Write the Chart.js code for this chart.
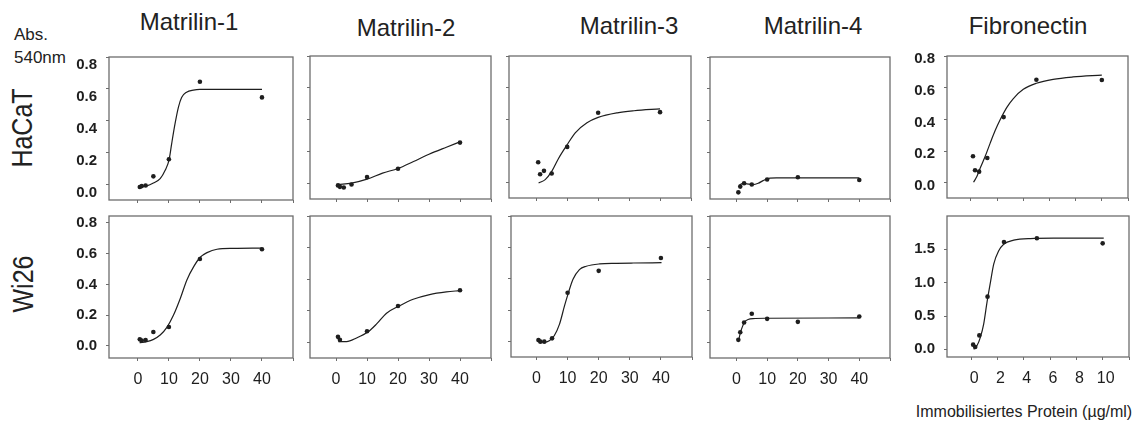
<!DOCTYPE html>
<html>
<head>
<meta charset="utf-8">
<script src="https://cdn.jsdelivr.net/npm/chart.js@4.4.1/dist/chart.umd.min.js"></script>
<style>
  body { margin: 0; background: #fff; width: 1138px; height: 425px; overflow: hidden; position: relative;
         font-family: "Liberation Sans", Arial, sans-serif; color: #222; }
  canvas { position: absolute; }
  .txt { position: absolute; white-space: nowrap; transform: translate(-50%, -50%); }
</style>
</head>
<body>
<div class="txt" style="left:189px;top:22px;font-size:24px">Matrilin-1</div>
<div class="txt" style="left:406px;top:28px;font-size:24px">Matrilin-2</div>
<div class="txt" style="left:629px;top:26px;font-size:24px">Matrilin-3</div>
<div class="txt" style="left:813px;top:26px;font-size:24px">Matrilin-4</div>
<div class="txt" style="left:1028px;top:26px;font-size:24px">Fibronectin</div>
<div class="txt" style="left:31px;top:35px;font-size:17px">Abs.</div>
<div class="txt" style="left:40px;top:58px;font-size:17px">540nm</div>
<div class="txt" style="left:22px;top:128px;font-size:25px;transform:translate(-50%,-50%) rotate(-90deg) scaleY(1.2)">HaCaT</div>
<div class="txt" style="left:23px;top:284px;font-size:25px;transform:translate(-50%,-50%) rotate(-90deg) scaleY(1.2)">Wi26</div>
<div class="txt" style="left:1024px;top:412px;font-size:16px">Immobilisiertes Protein (µg/ml)</div>

<script>
// doses in µg/ml
const matrilinDoses = [0.625, 1.25, 2.5, 5, 10, 20, 40];
const fibronectinDoses = [0.156, 0.3125, 0.625, 1.25, 2.5, 5, 10];

// measured points (Abs. 540nm), null = not visible
const hacatM1 = [-0.014, -0.008, -0.004, 0.053, 0.16, 0.645, 0.547];
const hacatM2 = [-0.01, -0.019, -0.023, -0.004, 0.042, 0.094, 0.258];
const hacatM3 = [0.13, 0.055, 0.076, 0.059, 0.227, 0.442, 0.446];
const hacatM4 = [-0.053, -0.017, 0.004, -0.004, 0.0275, 0.042, 0.025];
const hacatFn = [0.168, 0.08, 0.071, 0.157, 0.415, 0.65, 0.649];
const wi26M1 = [0.043, 0.035, 0.039, 0.091, 0.123, 0.565, 0.628];
const wi26M2 = [0.034, 0.015, null, null, 0.07, 0.23, 0.329];
const wi26M3 = [0.008, -0.002, -0.002, 0.019, 0.31, 0.45, 0.532];
const wi26M4 = [0.015, 0.063, 0.125, 0.18, 0.148, 0.129, 0.163];
const wi26Fn = [0.07, 0.035, 0.209, 0.79, 1.61, 1.667, 1.59];

// fitted curves
const hacatM1FitX = [0.5, 2.9, 5.0, 7.2, 8.8, 10.1, 10.9, 12.0, 13.1, 14.1, 15.7, 17.9, 20.0, 40];
const hacatM1FitY = [-0.014, -0.007, 0.011, 0.039, 0.091, 0.16, 0.258, 0.384, 0.488, 0.547, 0.58, 0.593, 0.597, 0.597];
const hacatM2FitX = [0.75, 5, 10, 15, 20, 25, 30, 35.6, 40];
const hacatM2FitY = [-0.004, 0.004, 0.029, 0.067, 0.096, 0.14, 0.185, 0.229, 0.2625];
const hacatM3FitX = [0.76, 2.9, 5.1, 7.2, 9.9, 12.6, 16.4, 20, 26.2, 31.6, 40];
const hacatM3FitY = [0.0, 0.021, 0.076, 0.154, 0.238, 0.316, 0.379, 0.413, 0.442, 0.455, 0.467];
const hacatM4FitX = [0.87, 1.6, 2.7, 5.4, 7.1, 8.7, 10.9, 13.0, 40];
const hacatM4FitY = [-0.011, 0.0, 0.002, -0.004, 0.004, 0.021, 0.036, 0.038, 0.038];
const hacatFnFitX = [0.2, 0.46, 0.71, 1.09, 1.47, 1.85, 2.23, 2.73, 3.24, 4.0, 5.0, 6.28, 7.8, 10];
const hacatFnFitY = [0.004, 0.042, 0.094, 0.168, 0.251, 0.33, 0.398, 0.475, 0.532, 0.59, 0.628, 0.653, 0.668, 0.68];
const wi26M1FitX = [0.54, 2.9, 5.05, 7.2, 9.35, 11.5, 13.7, 15.8, 18.0, 20.1, 22.3, 25.5, 30.9, 40];
const wi26M1FitY = [0.021, 0.028, 0.043, 0.071, 0.121, 0.201, 0.31, 0.429, 0.515, 0.576, 0.606, 0.628, 0.634, 0.636];
const wi26M2FitX = [0.75, 3.4, 6.6, 10.6, 13.1, 16.3, 20.4, 24.9, 30.2, 35.6, 40];
const wi26M2FitY = [0.004, 0.004, 0.027, 0.07, 0.116, 0.184, 0.23, 0.272, 0.302, 0.319, 0.327];
const wi26M3FitX = [0.65, 2.5, 4.1, 5.7, 7.4, 9.0, 10.2, 11.7, 13.8, 16.0, 20.3, 25.7, 31.1, 40.2];
const wi26M3FitY = [-0.002, -0.006, 0.004, 0.036, 0.11, 0.226, 0.306, 0.395, 0.458, 0.479, 0.494, 0.498, 0.5, 0.502];
const wi26M4FitX = [0.76, 1.3, 1.96, 2.7, 3.8, 5.4, 10, 40];
const wi26M4FitY = [0.015, 0.061, 0.099, 0.129, 0.144, 0.15, 0.152, 0.154];
const wi26FnFitX = [0.2, 0.46, 0.71, 0.96, 1.22, 1.47, 1.72, 2.1, 2.48, 3.24, 4.5, 6.28, 10.08];
const wi26FnFitY = [0.0, 0.06, 0.184, 0.383, 0.72, 1.005, 1.279, 1.478, 1.577, 1.637, 1.662, 1.667, 1.667];

// axis ticks
const matrilinXTicks = [0, 10, 20, 30, 40, 50];
const fibronectinXTicks = [0, 2, 4, 6, 8, 10, 12];
const absTicks = [0, 0.2, 0.4, 0.6, 0.8];
const absTicksFn = [0, 0.5, 1.0, 1.5];

Chart.defaults.font.family = '"Liberation Sans", Arial, sans-serif';
const INK = "#1e1e1e", FRAME = "#6d6d6d";

// box around the plot area
const frame = {
  id: "frame",
  afterDraw(chart) {
    const { ctx, chartArea: a } = chart;
    ctx.save();
    ctx.strokeStyle = FRAME;
    ctx.lineWidth = 1.3;
    ctx.strokeRect(a.left, a.top, a.right - a.left, a.bottom - a.top);
    ctx.restore();
  }
};

function makePanel(p) {
  const yW = p.yLabels ? 45 : 6, xH = p.xLabels ? 34 : 6, padT = 12, padR = 4;
  const [bl, bt, bw, bh] = p.box;
  const cv = document.createElement("canvas");
  cv.width = yW + bw + padR;
  cv.height = padT + bh + xH;
  cv.style.left = (bl - yW) + "px";
  cv.style.top = (bt - padT) + "px";
  document.body.appendChild(cv);

  const pts = p.x.map((v, i) => ({ x: v, y: p.y[i] })).filter(d => d.y !== null);
  const fit = p.fitX.map((v, i) => ({ x: v, y: p.fitY[i] }));

  new Chart(cv, {
    type: "scatter",
    data: {
      datasets: [
        { data: fit, showLine: true, pointRadius: 0, borderColor: INK, borderWidth: 1.2,
          cubicInterpolationMode: "monotone" },
        { data: pts, pointRadius: 2.3, backgroundColor: INK, pointBorderWidth: 0, borderColor: INK }
      ]
    },
    options: {
      responsive: false,
      animation: false,
      layout: { padding: { top: padT, right: padR, left: 0, bottom: 0 } },
      plugins: { legend: { display: false }, tooltip: { enabled: false } },
      scales: {
        x: {
          type: "linear", min: p.xMin, max: p.xMax,
          afterBuildTicks: s => { s.ticks = p.xTicks.map(v => ({ value: v })); },
          afterFit: s => { s.height = xH; s.paddingLeft = 0; s.paddingRight = 0; },
          grid: { drawOnChartArea: false, tickLength: 3, color: FRAME },
          border: { display: false },
          ticks: {
            padding: 9, labelOffset: p.xOff, color: INK, maxRotation: 0, autoSkip: false,
            font: { size: 16 },
            callback: v => (p.xLabels && v !== p.xTicks[p.xTicks.length - 1]) ? String(v) : ""
          }
        },
        y: {
          min: p.yMin, max: p.yMax,
          afterBuildTicks: s => { s.ticks = p.yTicks.map(v => ({ value: v })); },
          afterFit: s => { s.width = yW; s.paddingTop = 0; s.paddingBottom = 0; },
          grid: { drawOnChartArea: false, tickLength: 3, color: FRAME },
          border: { display: false },
          ticks: {
            padding: 9, labelOffset: p.yOff, color: INK, autoSkip: false,
            font: { size: 15, weight: "bold" },
            callback: v => p.yLabels ? v.toFixed(1) : ""
          }
        }
      }
    },
    plugins: [frame]
  });
}

const mX = { xTicks: matrilinXTicks, xMax: 50, xOff: 0 };
const fX = { xTicks: fibronectinXTicks, xMin: -1.83, xMax: 12, xOff: 3 };

const panels = [
  { ...mX, x: matrilinDoses, y: hacatM1, fitX: hacatM1FitX, fitY: hacatM1FitY, box: [109, 57, 184, 143],
    xMin: -9.3, xLabels: false, yMin: -0.095, yMax: 0.8, yTicks: absTicks, yLabels: true, yOff: 8 },
  { ...mX, x: matrilinDoses, y: hacatM2, fitX: hacatM2FitX, fitY: hacatM2FitY, box: [310, 56, 181, 143],
    xMin: -8.4, xLabels: false, yMin: -0.095, yMax: 0.8, yTicks: absTicks, yLabels: false, yOff: 0 },
  { ...mX, x: matrilinDoses, y: hacatM3, fitX: hacatM3FitX, fitY: hacatM3FitY, box: [509, 56, 182, 142],
    xMin: -8.8, xLabels: false, yMin: -0.095, yMax: 0.8, yTicks: absTicks, yLabels: false, yOff: 0 },
  { ...mX, x: matrilinDoses, y: hacatM4, fitX: hacatM4FitX, fitY: hacatM4FitY, box: [710, 57, 180, 142],
    xMin: -8.6, xLabels: false, yMin: -0.095, yMax: 0.8, yTicks: absTicks, yLabels: false, yOff: 0 },
  { ...fX, x: fibronectinDoses, y: hacatFn, fitX: hacatFnFitX, fitY: hacatFnFitY, box: [947, 56, 181, 142],
    xLabels: false, yMin: -0.095, yMax: 0.8, yTicks: absTicks, yLabels: true, yOff: 3 },
  { ...mX, x: matrilinDoses, y: wi26M1, fitX: wi26M1FitX, fitY: wi26M1FitY, box: [109, 216, 184, 142],
    xMin: -9.3, xLabels: true, yMin: -0.078, yMax: 0.844, yTicks: absTicks, yLabels: true, yOff: 0 },
  { ...mX, x: matrilinDoses, y: wi26M2, fitX: wi26M2FitX, fitY: wi26M2FitY, box: [310, 216, 181, 142],
    xMin: -8.4, xLabels: true, yMin: -0.1, yMax: 0.8, yTicks: absTicks, yLabels: false, yOff: 0 },
  { ...mX, x: matrilinDoses, y: wi26M3, fitX: wi26M3FitX, fitY: wi26M3FitY, box: [511, 216, 181, 141],
    xMin: -8.2, xLabels: true, yMin: -0.1, yMax: 0.8, yTicks: absTicks, yLabels: false, yOff: 0 },
  { ...mX, x: matrilinDoses, y: wi26M4, fitX: wi26M4FitX, fitY: wi26M4FitY, box: [710, 216, 180, 142],
    xMin: -8.6, xLabels: true, yMin: -0.1, yMax: 0.8, yTicks: absTicks, yLabels: false, yOff: 0 },
  { ...fX, x: fibronectinDoses, y: wi26Fn, fitX: wi26FnFitX, fitY: wi26FnFitY, box: [947, 216, 182, 141],
    xLabels: true, yMin: -0.115, yMax: 2.0, yTicks: absTicksFn, yLabels: true, yOff: 0 }
];

panels.forEach(makePanel);
</script>
</body>
</html>
